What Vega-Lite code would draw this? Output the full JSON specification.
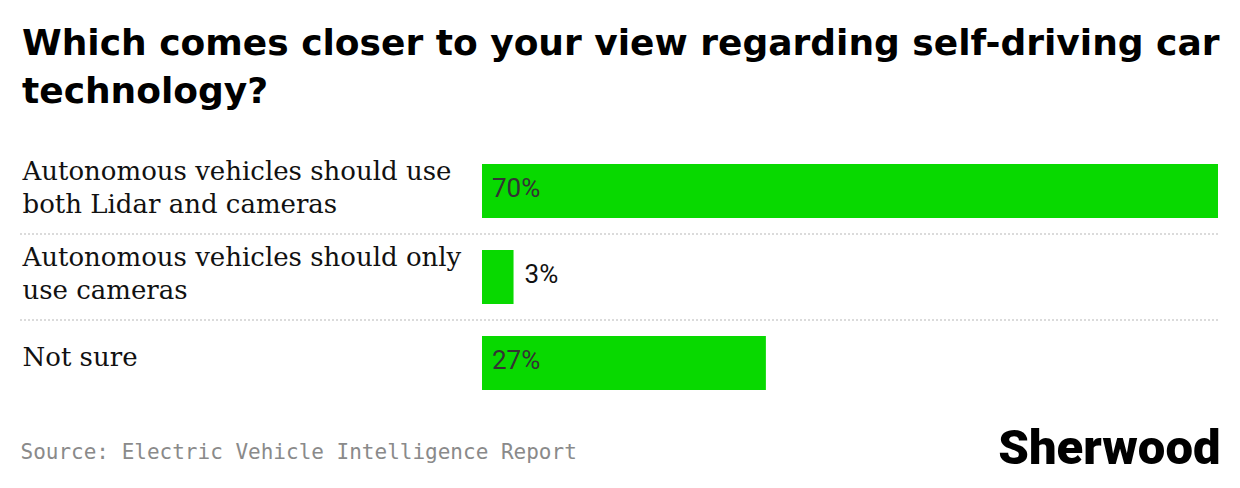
{
  "$schema": "https://vega.github.io/schema/vega-lite/v6.json",
  "width": 1198,
  "height": 258,
  "autosize": {"type": "none"},
  "padding": {"left": 20, "top": 148, "right": 22, "bottom": 82},
  "background": "white",
  "title": {
    "text": ["Which comes closer to your view regarding self-driving car", "technology?"],
    "anchor": "start",
    "frame": "group",
    "font": "DejaVu Sans",
    "fontSize": 36,
    "fontWeight": "bold",
    "color": "#000000",
    "lineHeight": 48,
    "offset": 37,
    "dx": 2
  },
  "data": {
    "values": [
      {"answer": "Autonomous vehicles should use|both Lidar and cameras", "pct": 0.70},
      {"answer": "Autonomous vehicles should only|use cameras", "pct": 0.03},
      {"answer": "Not sure", "pct": 0.27}
    ]
  },
  "encoding": {
    "y": {
      "field": "answer",
      "type": "nominal",
      "sort": null,
      "scale": {"paddingInner": 0, "paddingOuter": 0},
      "axis": {
        "title": "Source: Electric Vehicle Intelligence Report",
        "titleAngle": 0,
        "titleAlign": "left",
        "titleBaseline": "alphabetic",
        "titleX": 0,
        "titleY": 310,
        "titleFont": "DejaVu Sans Mono",
        "titleFontSize": 21,
        "titleFontWeight": "normal",
        "titleColor": "#8a8a8a",
        "domain": false,
        "ticks": false,
        "tickSize": 0,
        "grid": false,
        "labelAlign": "left",
        "labelPadding": -2,
        "labelFont": "DejaVu Serif",
        "labelFontSize": 26,
        "labelColor": "#111111",
        "labelLineHeight": 33,
        "labelBaseline": "middle",
        "labelLimit": 0,
        "labelOffset": {"condition": {"test": "indexof(datum.value, '|') >= 0", "value": -19}, "value": -5},
        "labelExpr": "split(datum.label, '|')"
      }
    }
  },
  "layer": [
    {
      "transform": [{"filter": "datum.answer != 'Not sure'"}],
      "mark": {"type": "rule", "color": "#cfcfcf", "strokeDash": [2, 2], "strokeWidth": 1.5},
      "encoding": {
        "y": {"field": "answer", "type": "nominal", "bandPosition": 1},
        "x": {"value": 0},
        "x2": {"value": "width"}
      }
    },
    {
      "mark": {"type": "bar", "color": "#08D900", "height": {"band": 0.63}},
      "encoding": {
        "x": {
          "field": "pct",
          "type": "quantitative",
          "scale": {"domain": [0, 0.7], "range": [462, 1198]},
          "axis": {
            "domain": false,
            "ticks": false,
            "labels": false,
            "grid": false,
            "title": "Sherwood",
            "titleFont": "Roboto",
            "titleFontWeight": 900,
            "titleFontSize": 49,
            "titleColor": "#000000",
            "titleAlign": "right",
            "titleBaseline": "alphabetic",
            "titleX": 1200,
            "titleY": 57
          }
        }
      }
    },
    {
      "transform": [{"filter": "datum.pct >= 0.1"}],
      "mark": {"type": "text", "align": "left", "baseline": "middle", "dx": 10, "dy": -2, "font": "Roboto", "fontSize": 26, "color": "#333333"},
      "encoding": {
        "x": {"datum": 0},
        "text": {"field": "pct", "type": "quantitative", "format": ".0%"}
      }
    },
    {
      "transform": [{"filter": "datum.pct < 0.1"}],
      "mark": {"type": "text", "align": "left", "baseline": "middle", "dx": 11, "dy": -2, "font": "Roboto", "fontSize": 26, "color": "#111111"},
      "encoding": {
        "x": {"field": "pct", "type": "quantitative"},
        "text": {"field": "pct", "type": "quantitative", "format": ".0%"}
      }
    }
  ],
  "config": {
    "view": {"stroke": null}
  }
}
